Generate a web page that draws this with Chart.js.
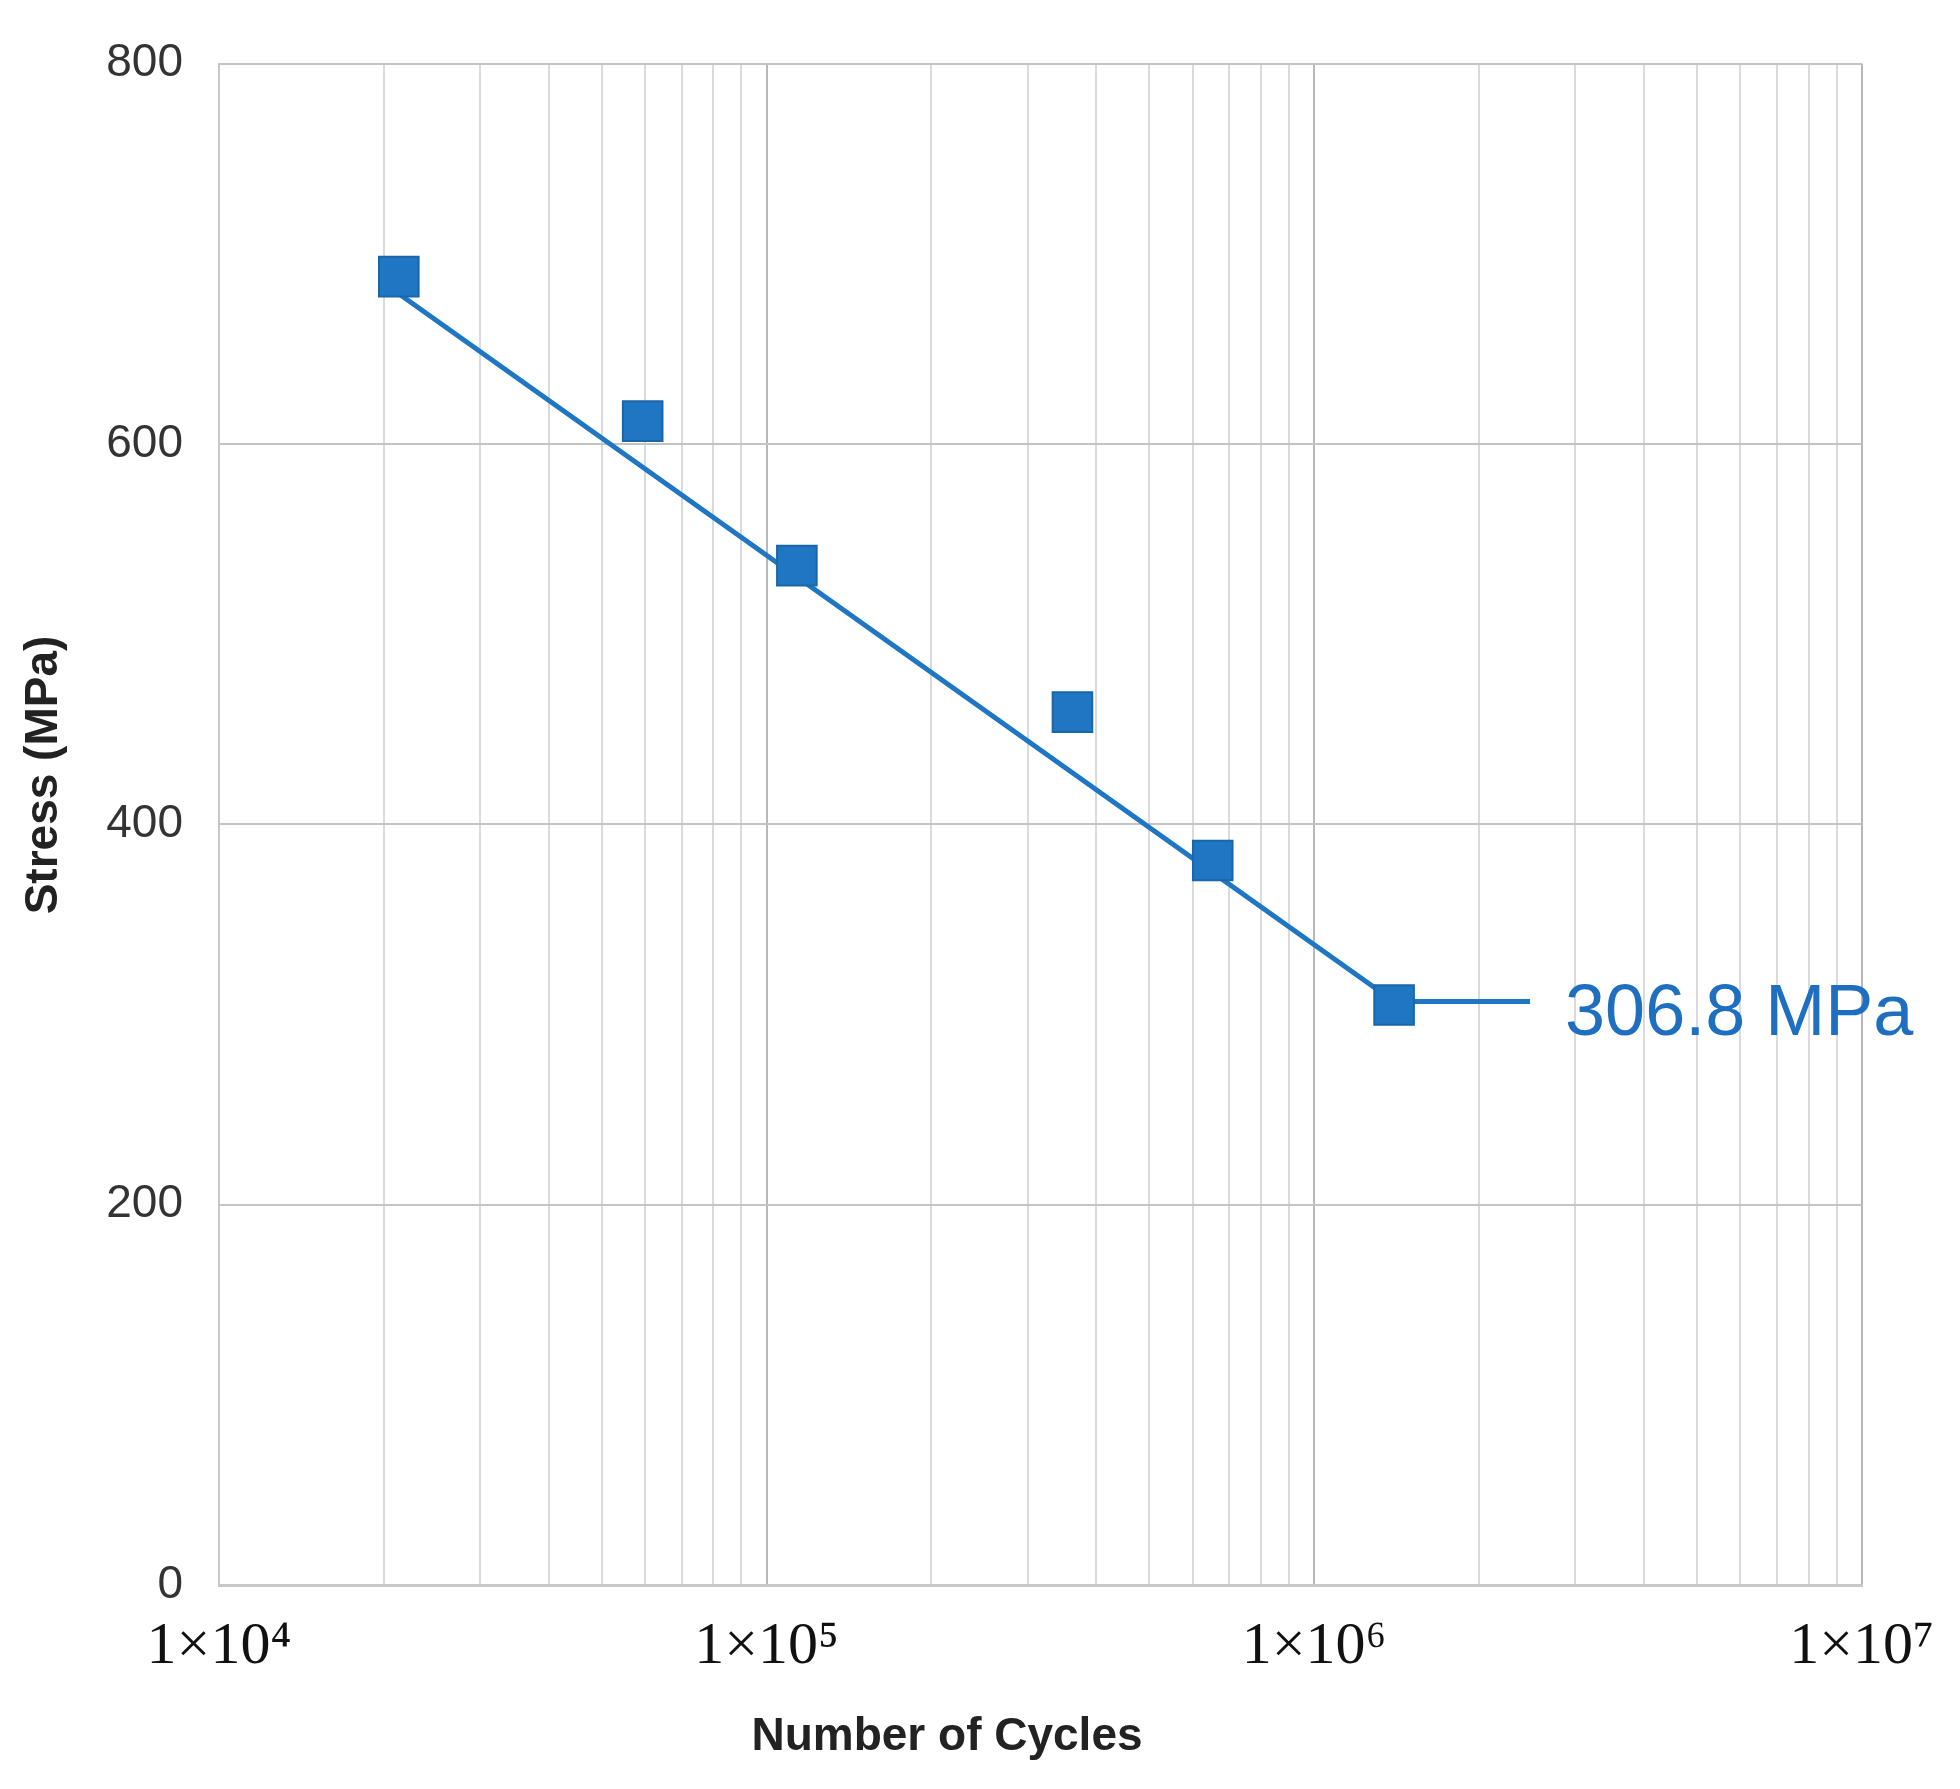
<!DOCTYPE html>
<html><head><meta charset="utf-8">
<script src="https://cdn.jsdelivr.net/npm/chart.js@4"></script>
<style>html,body{margin:0;padding:0;background:#fff}#w{width:1960px;height:1789px}</style>
</head><body><div id="w"><canvas id="c"></canvas></div>
<script>
const cycles = [21300, 59400, 113600, 362000, 653000, 1400000];
const stress = [688, 612, 536, 459, 381, 305];
const trendCycles = [21300, 1400000, 2480000];
const trendStress = [679, 306.8, 306.8];
const yTicks = [0, 200, 400, 600, 800];
const xMajorLabels = {4: '1×10⁴', 5: '1×10⁵', 6: '1×10⁶', 7: '1×10⁷'};
const annotation = '306.8 MPa';
const blue = '#1f77c4';

const titles = {
  id: 'titles',
  afterDraw(chart) {
    const ctx = chart.ctx;
    ctx.save();
    ctx.fillStyle = '#222';
    ctx.font = 'bold 46px "Liberation Sans", Arial, sans-serif';
    ctx.textAlign = 'center'; ctx.textBaseline = 'middle';
    ctx.fillText('Number of Cycles', 947, 1737);
    ctx.translate(44, 775); ctx.rotate(-Math.PI / 2);
    ctx.fillText('Stress (MPa)', 0, 0);
    ctx.restore();
    ctx.save();
    const xs = chart.scales.x, ys = chart.scales.y;
    ctx.fillStyle = '#1f6fc0';
    ctx.font = '72px "Liberation Sans", Arial, sans-serif';
    ctx.textAlign = 'left'; ctx.textBaseline = 'middle';
    ctx.fillText(annotation, xs.getPixelForValue(trendCycles[2]) + 35, ys.getPixelForValue(trendStress[2]) + 14);
    ctx.restore();
  }
};

new Chart(document.getElementById('c'), {
  type: 'scatter',
  data: {
    datasets: [
      { data: trendCycles.map((x, i) => ({x, y: trendStress[i]})), showLine: true,
        borderColor: blue, borderWidth: 5, pointRadius: 0, order: 2 },
      { data: cycles.map((x, i) => ({x, y: stress[i]})), pointStyle: 'rect',
        pointRadius: 28, backgroundColor: blue, borderColor: '#1a66a8', borderWidth: 2, order: 1 }
    ]
  },
  options: {
    responsive: true, maintainAspectRatio: false, animation: false,
    layout: { padding: { left: 0, right: 89, top: 30, bottom: 0 } },
    plugins: { legend: { display: false }, tooltip: { enabled: false } },
    scales: {
      x: {
        type: 'logarithmic', min: 1e4, max: 1e7,
        afterFit(s) { s.height = 204; },
        afterBuildTicks(s) {
          const t = [];
          for (let e = 4; e < 7; e++) for (let m = 1; m < 10; m++) t.push({value: m * Math.pow(10, e)});
          t.push({value: 1e7});
          s.ticks = t;
        },
        grid: {
          color: c => { const v = c.tick && c.tick.value; const l = Math.log10(v); return Math.abs(l - Math.round(l)) < 1e-6 ? '#b8b8b8' : '#dadada'; },
          lineWidth: 2, drawTicks: false
        },
        border: { color: '#c8c8c8', width: 3 },
        ticks: {
          autoSkip: false, maxRotation: 0, padding: 26, color: '#111',
          font: { family: '"Liberation Serif", serif', size: 60 },
          callback: v => { const l = Math.log10(v); return Math.abs(l - Math.round(l)) < 1e-6 ? xMajorLabels[Math.round(l)] : ''; }
        }
      },
      y: {
        min: 0, max: 800,
        afterFit(s) { s.width = 219; },
        afterBuildTicks(s) { s.ticks = yTicks.map(v => ({value: v})); },
        grid: { color: '#c4c4c4', lineWidth: 2, drawTicks: false },
        border: { color: '#c8c8c8', width: 2 },
        ticks: { padding: 36, color: '#333', font: { family: '"Liberation Sans", Arial, sans-serif', size: 46 } }
      }
    }
  },
  plugins: [titles]
});
</script></body></html>
